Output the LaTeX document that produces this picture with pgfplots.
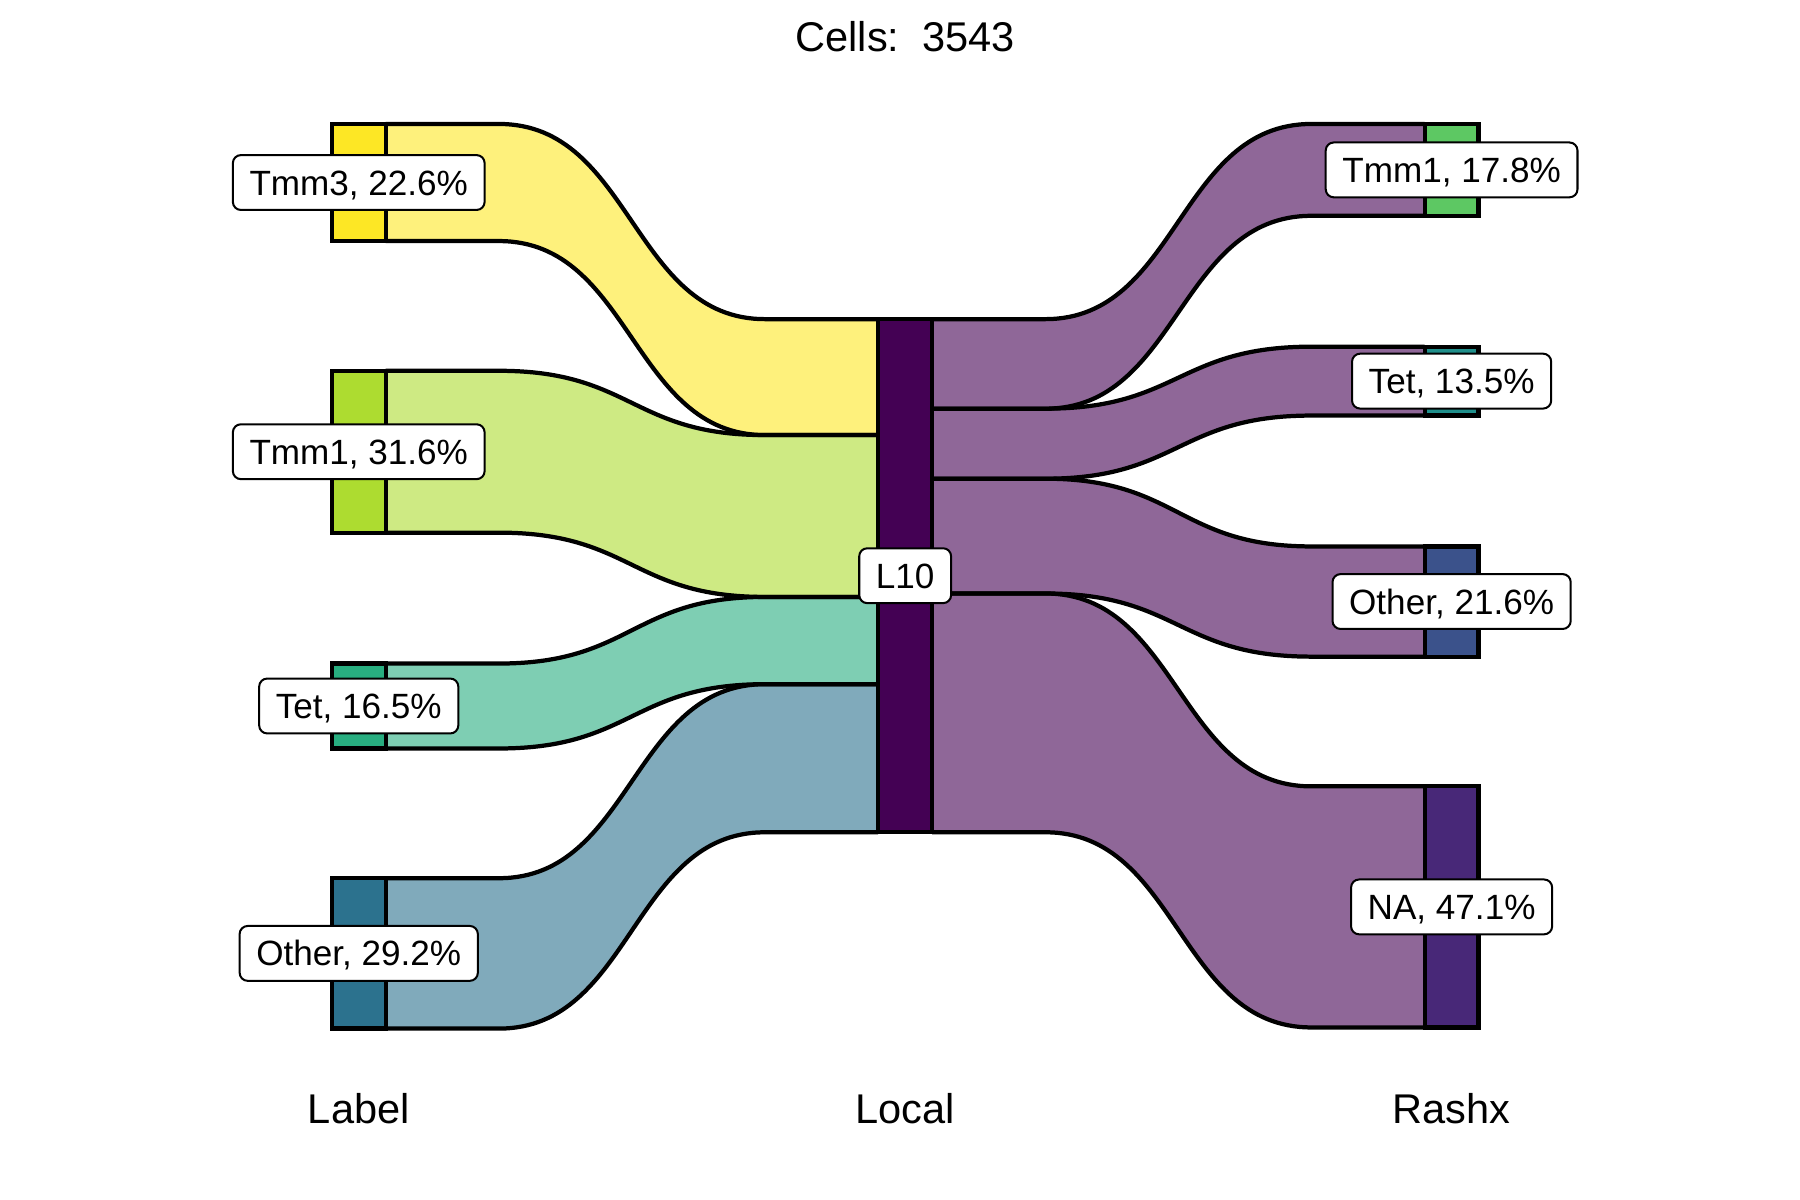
\documentclass[border=0pt]{standalone}
\usepackage{pgfplots}
\pgfplotsset{compat=1.18}
\usepackage{fontspec}
\setmainfont{Liberation Sans}

\definecolor{nTmmthree}{HTML}{FDE725}
\definecolor{fTmmthree}{HTML}{FEF17C}
\definecolor{nTmmone}{HTML}{ADDC30}
\definecolor{fTmmone}{HTML}{CEEA83}
\definecolor{nTet}{HTML}{28AE80}
\definecolor{fTet}{HTML}{7ECEB3}
\definecolor{nOther}{HTML}{2C728E}
\definecolor{fOther}{HTML}{80AABB}
\definecolor{nLten}{HTML}{440154}
\definecolor{fLten}{HTML}{8F6798}
\definecolor{rTmmone}{HTML}{5DC863}
\definecolor{rTet}{HTML}{21908C}
\definecolor{rOther}{HTML}{3B528B}
\definecolor{rNA}{HTML}{482878}

\tikzset{
  lab/.style={draw=black, line width=0.5pt, fill=white, rounded corners=0.7mm,
    inner xsep=1.45mm, inner ysep=1.3mm, text height=6.2pt, text depth=0pt,
    font=\fontsize{8.7}{10}\selectfont},
  stratum/.style={draw=black, line width=1.05pt},
  flowline/.style={line width=1.05pt},
  big/.style={anchor=base, font=\fontsize{10.3}{12}\selectfont}}

% left flows: Label (x 336) -> Local (x 765)
\newcommand{\Lfill}[5]{\fill[#5] (336,#1) -- (434.7,#1) .. controls (550.5,#1) and (550.5,#3) .. (666.3,#3) -- (765,#3) -- (765,#4) -- (666.3,#4) .. controls (550.5,#4) and (550.5,#2) .. (434.7,#2) -- (336,#2) -- cycle;}
\newcommand{\Ldraw}[4]{\draw[flowline] (336,#1) -- (434.7,#1) .. controls (550.5,#1) and (550.5,#3) .. (666.3,#3) -- (765,#3);
 \draw[flowline] (336,#2) -- (434.7,#2) .. controls (550.5,#2) and (550.5,#4) .. (666.3,#4) -- (765,#4);}
% right flows: Local (x 812) -> Rashx (x 1241)
\newcommand{\Rfill}[5]{\fill[#5] (812,#1) -- (910.7,#1) .. controls (1026.5,#1) and (1026.5,#3) .. (1142.3,#3) -- (1241,#3) -- (1241,#4) -- (1142.3,#4) .. controls (1026.5,#4) and (1026.5,#2) .. (910.7,#2) -- (812,#2) -- cycle;}
\newcommand{\Rdraw}[4]{\draw[flowline] (812,#1) -- (910.7,#1) .. controls (1026.5,#1) and (1026.5,#3) .. (1142.3,#3) -- (1241,#3);
 \draw[flowline] (812,#2) -- (910.7,#2) .. controls (1026.5,#2) and (1026.5,#4) .. (1142.3,#4) -- (1241,#4);}

\begin{document}
\begin{tikzpicture}
\begin{axis}[width=15.68cm, height=10.45cm, scale only axis,
  xmin=0, xmax=1568, ymin=0, ymax=1045, y dir=reverse,
  hide axis, clip=false]
\addplot[draw=none, forget plot] coordinates {(0,0) (1568,1045)};

% flow fills
\Lfill{108}{210}{278}{379}{fTmmthree}
\Lfill{323}{464}{379}{520}{fTmmone}
\Lfill{578}{652}{520}{596}{fTet}
\Lfill{765}{896}{596}{725}{fOther}
\Rfill{278}{356}{108}{188}{fLten}
\Rfill{356}{417}{302}{362}{fLten}
\Rfill{417}{517}{476}{572}{fLten}
\Rfill{517}{725}{685}{895}{fLten}
% flow outlines
\Ldraw{108}{210}{278}{379}
\Ldraw{323}{464}{379}{520}
\Ldraw{578}{652}{520}{596}
\Ldraw{765}{896}{596}{725}
\Rdraw{278}{356}{108}{188}
\Rdraw{356}{417}{302}{362}
\Rdraw{417}{517}{476}{572}
\Rdraw{517}{725}{685}{895}

% strata: Label
\addplot[stratum, fill=nTmmthree] coordinates {(289,108) (336,108) (336,210) (289,210)} -- cycle;
\addplot[stratum, fill=nTmmone] coordinates {(289,323) (336,323) (336,464) (289,464)} -- cycle;
\addplot[stratum, fill=nTet] coordinates {(289,578) (336,578) (336,652) (289,652)} -- cycle;
\addplot[stratum, fill=nOther] coordinates {(289,765) (336,765) (336,896) (289,896)} -- cycle;
% strata: Local
\addplot[stratum, fill=nLten] coordinates {(765,278) (812,278) (812,725) (765,725)} -- cycle;
% strata: Rashx
\addplot[stratum, fill=rTmmone] coordinates {(1241,108) (1288,108) (1288,188) (1241,188)} -- cycle;
\addplot[stratum, fill=rTet] coordinates {(1241,302) (1288,302) (1288,362) (1241,362)} -- cycle;
\addplot[stratum, fill=rOther] coordinates {(1241,476) (1288,476) (1288,572) (1241,572)} -- cycle;
\addplot[stratum, fill=rNA] coordinates {(1241,685) (1288,685) (1288,895) (1241,895)} -- cycle;

% labels
\node[lab] at (312.5,159) {Tmm3, 22.6\%};
\node[lab] at (312.5,393.5) {Tmm1, 31.6\%};
\node[lab] at (312.5,615) {Tet, 16.5\%};
\node[lab] at (312.5,830.5) {Other, 29.2\%};
\node[lab] at (788.5,501.5) {L10};
\node[lab] at (1264.5,148) {Tmm1, 17.8\%};
\node[lab] at (1264.5,332) {Tet, 13.5\%};
\node[lab] at (1264.5,524) {Other, 21.6\%};
\node[lab] at (1264.5,790) {NA, 47.1\%};

% title and axis labels
\node[big] at (788.5,45) {Cells:\ \ 3543};
\node[big] at (312.5,979) {Label};
\node[big] at (788.5,979) {Local};
\node[big] at (1264.5,979) {Rashx};
\end{axis}
\end{tikzpicture}
\end{document}
